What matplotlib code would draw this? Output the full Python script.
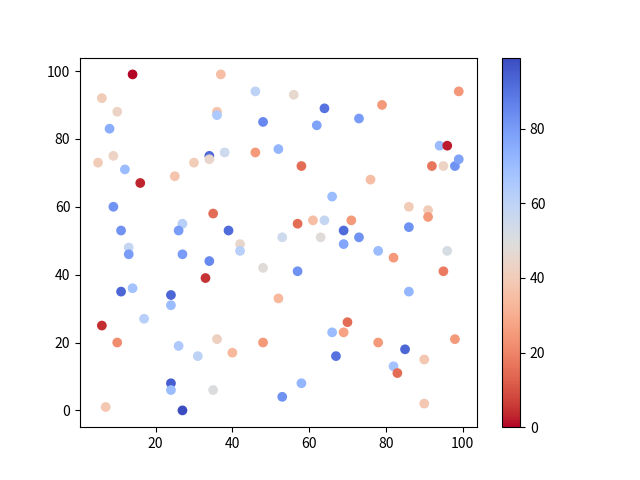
import matplotlib
matplotlib.use('Agg')
import matplotlib.pyplot as plt

plt.rcParams['font.family'] = ['Noto Sans CJK SC', 'DejaVu Sans']
plt.rcParams['axes.unicode_minus'] = False

# scattered points
x = [14, 37, 46, 6, 10, 36, 36, 8, 48, 56,
     64, 79, 62, 73, 5, 9, 12, 16, 25, 30,
     34, 34, 38, 46, 52, 58, 94, 96, 92, 95,
     98, 99, 9, 11, 13, 13, 27, 26, 35, 39,
     34, 42, 42, 27, 11, 14, 17, 24, 24, 33,
     6, 10, 26, 31, 36, 40, 48, 24, 24, 35,
     27, 7, 48, 53, 57, 61, 63, 64, 71, 69,
     73, 69, 66, 76, 78, 82, 86, 86, 91, 91,
     96, 57, 52, 95, 86, 70, 66, 69, 78, 85,
     82, 83, 90, 98, 99, 67, 58, 53, 90]
y = [99, 99, 94, 92, 88, 88, 87, 83, 85, 93,
     89, 90, 84, 86, 73, 75, 71, 67, 69, 73,
     75, 74, 76, 76, 77, 72, 78, 78, 72, 72,
     72, 74, 60, 53, 48, 46, 55, 53, 58, 53,
     44, 49, 47, 46, 35, 36, 27, 34, 31, 39,
     25, 20, 19, 16, 21, 17, 20, 8, 6, 6,
     0, 1, 42, 51, 55, 56, 51, 56, 56, 53,
     51, 49, 63, 68, 47, 45, 54, 60, 59, 57,
     47, 41, 33, 41, 35, 26, 23, 23, 20, 18,
     13, 11, 15, 21, 94, 16, 8, 4, 2]
c = [0, 35, 60, 40, 43, 37, 65, 75, 85, 46,
     90, 25, 78, 80, 40, 43, 70, 3, 37, 40,
     92, 45, 55, 25, 72, 15, 70, 2, 17, 43,
     82, 78, 82, 82, 58, 80, 62, 80, 15, 92,
     85, 45, 62, 80, 93, 68, 62, 93, 70, 5,
     4, 22, 65, 60, 42, 33, 25, 95, 70, 50,
     99, 38, 48, 55, 15, 35, 48, 58, 25, 92,
     82, 77, 70, 35, 70, 25, 82, 40, 40, 25,
     52, 82, 33, 18, 72, 15, 70, 27, 25, 93,
     68, 15, 38, 25, 24, 90, 72, 82, 38]

fig, ax = plt.subplots(figsize=(6.4, 4.8), dpi=100)
sc = ax.scatter(x, y, c=c, cmap='coolwarm_r')
fig.colorbar(sc, ax=ax)

fig.savefig('out.png')
